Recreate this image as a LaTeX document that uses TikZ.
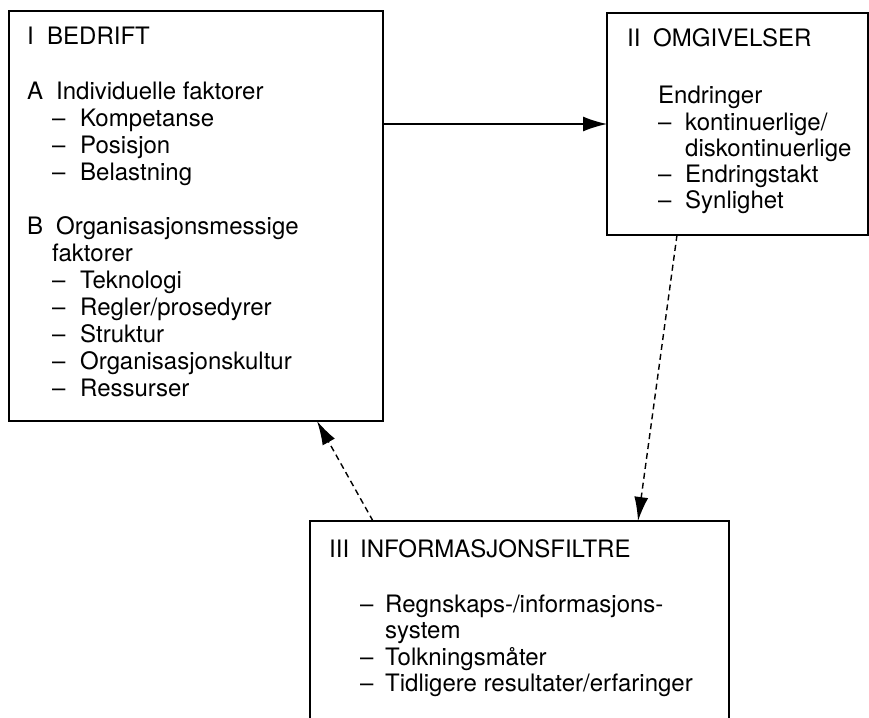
\documentclass[tikz,border=0pt]{standalone}
\usepackage{fontspec}
\setmainfont{TeX Gyre Heros}
\usetikzlibrary{arrows.meta}

\begin{document}
\begin{tikzpicture}[x=1pt, y=-1pt,
  box/.style={draw, line width=1.6pt, inner sep=0pt, outer sep=0pt, anchor=north west},
  txt/.style={anchor=base west, inner sep=0pt, font=\fontsize{24}{27}\selectfont},
  solidarrow/.style={line width=1.4pt, -{Latex[length=24pt, width=15pt]}},
  dasharrow/.style={line width=1.4pt, dash pattern=on 6pt off 4pt, -{Latex[length=24pt, width=14pt]}}]

\useasboundingbox (0,0) rectangle (869,717);
\clip (0,0) rectangle (869,717);

% Boxes (the lower one runs past the page edge)
\node[box, minimum width=374pt, minimum height=410pt] (bedrift) at (9,11) {};
\node[box, minimum width=261pt, minimum height=222pt] (omg) at (607,13) {};
\node[box, minimum width=419pt, minimum height=260pt] (info) at (310,521) {};

% I BEDRIFT
\node[txt] (b0) at (27,45) {\makebox[20pt][l]{I}BEDRIFT};
\node[txt] (b1) at (27,99) {\makebox[29pt][l]{A}Individuelle faktorer};
\node[txt] (b2) at (52,126) {\makebox[28pt][l]{–}Kompetanse};
\node[txt] (b3) at (52,153) {\makebox[28pt][l]{–}Posisjon};
\node[txt] (b4) at (52,180) {\makebox[28pt][l]{–}Belastning};
\node[txt] (b5) at (27,234) {\makebox[29pt][l]{B}Organisasjonsmessige};
\node[txt] (b6) at (52,261) {faktorer};
\node[txt] (b7) at (52,288) {\makebox[28pt][l]{–}Teknologi};
\node[txt] (b8) at (52,315) {\makebox[28pt][l]{–}Regler/prosedyrer};
\node[txt] (b9) at (52,342) {\makebox[28pt][l]{–}Struktur};
\node[txt] (b10) at (52,369) {\makebox[28pt][l]{–}Organisasjonskultur};
\node[txt] (b11) at (52,396) {\makebox[28pt][l]{–}Ressurser};

% II OMGIVELSER
\node[txt] (o0) at (627,47) {\makebox[26pt][l]{II}OMGIVELSER};
\node[txt] (o1) at (658,103) {Endringer};
\node[txt] (o2) at (658,130) {\makebox[27pt][l]{–}kontinuerlige/};
\node[txt] (o3) at (685,156) {diskontinuerlige};
\node[txt] (o4) at (658,182) {\makebox[27pt][l]{–}Endringstakt};
\node[txt] (o5) at (658,208) {\makebox[27pt][l]{–}Synlighet};

% III INFORMASJONSFILTRE
\node[txt] (i0) at (329,557) {\makebox[31pt][l]{III}INFORMASJONSFILTRE};
\node[txt] (i1) at (360,612) {\makebox[25pt][l]{–}Regnskaps-/informasjons-};
\node[txt] (i2) at (385,638) {system};
\node[txt] (i3) at (360,665) {\makebox[25pt][l]{–}Tolkningsmåter};
\node[txt] (i4) at (360,691) {\makebox[25pt][l]{–}Tidligere resultater/erfaringer};

% Connectors
\draw[solidarrow] (bedrift.east |- omg.west) -- (omg.west);
\draw[dasharrow] ([xshift=70pt]omg.south west) -- ([xshift=328pt]info.north west);
\draw[dasharrow] ([xshift=63pt]info.north west) -- ([xshift=308pt]bedrift.south west);

\end{tikzpicture}
\end{document}
